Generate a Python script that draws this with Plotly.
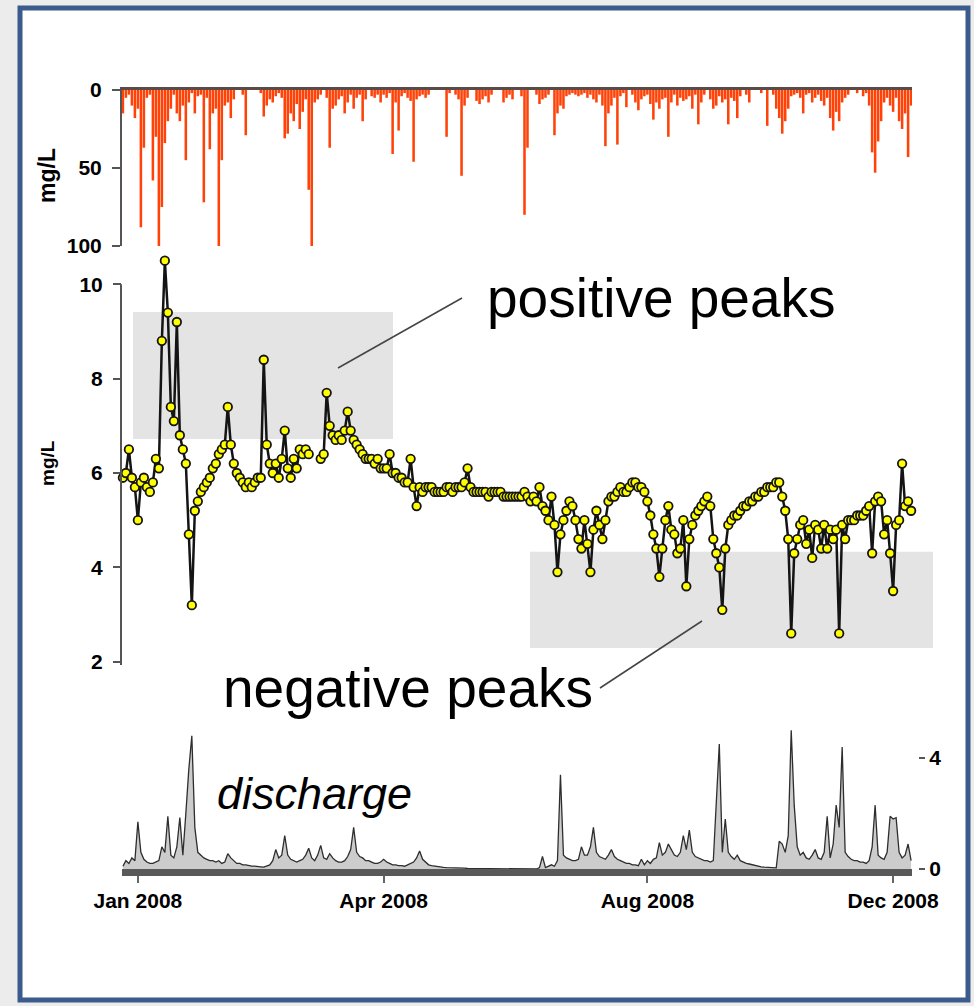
import plotly.graph_objects as go

# ---------------- data (one sample every ~3 px of the time axis) ----------------
rain = [
    15, 5, 3, 10, 18, 12, 88, 37, 5, 3,
    58, 30, 101, 75, 34, 20, 12, 3, 15, 20,
    10, 45, 8, 2, 15, 4, 3, 72, 5, 38,
    15, 12, 101, 45, 10, 8, 18, 6, 0, 0,
    3, 29, 0, 0, 0, 0, 2, 17, 10, 6,
    8, 4, 2, 5, 31, 28, 15, 20, 9, 25,
    14, 6, 64, 101, 8, 6, 3, 0, 5, 37,
    12, 10, 6, 4, 15, 8, 3, 12, 5, 3,
    20, 6, 0, 4, 5, 3, 8, 3, 5, 2,
    41, 8, 26, 4, 2, 5, 7, 46, 6, 4,
    3, 5, 3, 0, 0, 0, 0, 0, 30, 2,
    0, 3, 6, 55, 10, 5, 0, 0, 7, 9,
    6, 4, 8, 3, 0, 0, 0, 8, 5, 3,
    6, 0, 0, 4, 80, 37, 0, 0, 3, 9,
    6, 5, 3, 0, 29, 15, 10, 12, 4, 3,
    2, 3, 4, 3, 2, 5, 3, 6, 8, 3,
    10, 36, 15, 10, 5, 35, 4, 2, 11, 0,
    3, 8, 13, 6, 4, 3, 9, 19, 8, 12,
    6, 5, 30, 8, 3, 10, 5, 7, 6, 4,
    12, 3, 22, 8, 3, 0, 6, 12, 10, 4,
    8, 6, 22, 5, 7, 18, 4, 0, 3, 8,
    0, 0, 0, 2, 0, 23, 0, 3, 12, 18,
    28, 20, 12, 4, 3, 2, 5, 15, 3, 2,
    8, 5, 3, 7, 10, 5, 18, 26, 14, 20,
    8, 5, 3, 0, 0, 2, 0, 4, 2, 10,
    40, 53, 33, 20, 8, 5, 10, 14, 5, 20,
    25, 15, 43, 10,
]

conc = [
    5.9, 6.0, 6.5, 5.9, 5.7, 5.0, 5.8, 5.9, 5.7, 5.6,
    5.8, 6.3, 6.1, 8.8, 10.5, 9.4, 7.4, 7.1, 9.2, 6.8,
    6.5, 6.2, 4.7, 3.2, 5.2, 5.4, 5.6, 5.7, 5.8, 5.9,
    6.1, 6.2, 6.4, 6.5, 6.6, 7.4, 6.6, 6.2, 6.0, 5.9,
    5.8, 5.7, 5.8, 5.7, 5.8, 5.9, 5.9, 8.4, 6.6, 6.2,
    6.0, 6.2, 5.9, 6.3, 6.9, 6.1, 5.9, 6.3, 6.1, 6.5,
    6.4, 6.5, 6.4, None, None, None, 6.3, 6.4, 7.7, 7.0,
    6.8, 6.7, 6.8, 6.7, 6.9, 7.3, 6.9, 6.7, 6.6, 6.5,
    6.4, 6.3, 6.3, 6.3, 6.2, 6.3, 6.1, 6.1, 6.1, 6.4,
    6.0, 6.0, 5.9, 5.9, 5.8, 5.8, 6.3, 5.7, 5.3, 5.7,
    5.6, 5.7, 5.7, 5.7, 5.6, 5.6, 5.6, 5.6, 5.7, 5.7,
    5.6, 5.7, 5.7, 5.7, 5.8, 6.1, 5.7, 5.6, 5.6, 5.6,
    5.6, 5.6, 5.5, 5.6, 5.6, 5.6, 5.6, 5.5, 5.5, 5.5,
    5.5, 5.5, 5.5, 5.5, 5.6, 5.5, 5.4, 5.5, 5.4, 5.7,
    5.3, 5.2, 5.0, 5.5, 4.9, 3.9, 4.7, 5.0, 5.2, 5.4,
    5.3, 5.0, 4.6, 4.4, 5.0, 4.5, 3.9, 4.8, 5.2, 4.9,
    4.6, 5.0, 5.4, 5.5, 5.5, 5.6, 5.7, 5.6, 5.6, 5.7,
    5.8, 5.8, 5.7, 5.7, 5.6, 5.4, 5.1, 4.7, 4.4, 3.8,
    4.4, 5.0, 5.3, 4.8, 4.7, 4.3, 4.4, 5.0, 3.6, 4.6,
    4.9, 5.1, 5.2, 5.3, 5.4, 5.5, 5.3, 4.6, 4.3, 4.0,
    3.1, 4.4, 4.9, 5.0, 5.1, 5.1, 5.2, 5.3, 5.3, 5.4,
    5.4, 5.5, 5.5, 5.6, 5.6, 5.7, 5.7, 5.7, 5.8, 5.8,
    5.5, 5.2, 4.6, 2.6, 4.3, 4.6, 4.9, 5.0, 4.5, 4.8,
    4.2, 4.9, 4.8, 4.4, 4.9, 4.4, 4.8, 4.6, 4.8, 2.6,
    4.9, 4.6, 5.0, 5.0, 5.0, 5.1, 5.1, 5.1, 5.2, 5.3,
    4.3, 5.4, 5.5, 5.4, 4.7, 5.0, 4.3, 3.5, 4.9, 5.0,
    6.2, 5.3, 5.4, 5.2,
]

discharge = [
    0.1, 0.3, 0.2, 0.4, 0.3, 1.7, 0.6, 0.35, 0.25, 0.2,
    0.2, 0.25, 0.3, 0.8, 0.6, 1.9, 0.5, 0.4, 0.8, 1.85,
    0.5, 2.0, 3.6, 4.8, 1.5, 0.6, 0.5, 0.4, 0.35, 0.3,
    0.3, 0.25, 0.3, 0.2, 0.25, 0.55, 0.4, 0.3, 0.2, 0.2,
    0.15, 0.15, 0.12, 0.1, 0.1, 0.08, 0.08, 0.07, 0.1, 0.15,
    0.3, 0.7, 0.4, 0.5, 1.2, 0.5, 0.35, 0.3, 0.25, 0.3,
    0.35, 0.5, 0.75, 0.4, 0.3, 0.5, 0.85, 0.4, 0.35, 0.55,
    0.4, 0.3, 0.25, 0.25, 0.3, 0.45, 0.7, 1.5, 0.6, 0.45,
    0.4, 0.3, 0.3, 0.25, 0.2, 0.2, 0.25, 0.35, 0.25, 0.2,
    0.15, 0.15, 0.12, 0.12, 0.1, 0.15, 0.2, 0.25, 0.4, 0.65,
    0.35, 0.25, 0.15, 0.12, 0.1, 0.08, 0.07, 0.06, 0.05, 0.05,
    0.04, 0.03, 0.03, 0.03, 0.03, 0.02, 0.02, 0.02, 0.02, 0.02,
    0.02, 0.02, 0.02, 0.01, 0.01, 0.01, 0.01, 0.01, 0.01, 0.01,
    0.01, 0.01, 0.01, 0.01, 0.0, 0.0, 0.0, 0.0, 0.0, 0.05,
    0.45, 0.05, 0.1, 0.15, 0.1, 0.3, 3.4, 0.5, 0.4, 0.35,
    0.3, 0.3, 0.35, 0.8, 0.5, 0.5, 0.8, 1.5, 0.6, 0.45,
    0.4, 0.35, 0.5, 0.7, 0.45, 0.35, 0.3, 0.25, 0.2, 0.2,
    0.15, 0.15, 0.12, 0.35, 0.15, 0.3, 0.2, 0.35, 0.4, 0.95,
    0.5, 0.6, 0.9, 0.7, 0.5, 0.45, 0.6, 1.2, 0.7, 1.4,
    0.6, 0.45, 0.4, 0.35, 0.3, 0.3, 0.25, 0.3, 2.5, 4.5,
    0.6, 1.8, 0.6, 0.45, 0.35, 0.5, 0.3, 0.25, 0.2, 0.18,
    0.15, 0.12, 0.1, 0.08, 0.07, 0.06, 0.05, 0.05, 0.04, 1.0,
    0.9, 0.6, 1.2, 5.0, 2.3, 0.8, 0.5, 0.6, 0.4, 0.35,
    0.5, 0.7, 0.4, 0.35, 0.6, 1.9, 0.4, 0.9, 2.3, 1.5,
    4.4, 0.6, 0.45, 0.35, 0.3, 0.3, 0.25, 0.25, 0.2, 0.3,
    0.8, 2.3, 0.5, 0.4, 0.35, 0.6, 1.9, 1.8, 1.85, 0.6,
    0.4, 0.5, 0.9, 0.3,
]

tick_idx = [5, 87, 175, 257]
tick_labels = ["Jan 2008", "Apr 2008", "Aug 2008", "Dec 2008"]
rain_ticks = [0, 50, 100]
conc_ticks = [2, 4, 6, 8, 10]
q_ticks = [0, 4]

# ---------------- geometry helpers ----------------
W, H = 974, 1006
def px(x):
    return x / W
def py(y):
    return 1 - y / H

idx = list(range(len(conc)))
xr = [-0.3, 263.3]
xdom = [px(122), px(912)]
FONT = "Liberation Sans, Arial, sans-serif"
tickfont = dict(family=FONT, size=21, color="black", weight="bold")

fig = go.Figure()
fig.add_trace(go.Bar(
    x=idx, y=rain, xaxis="x", yaxis="y",
    marker=dict(color="#ff4208", line=dict(width=0)),
    showlegend=False, hoverinfo="skip"))
fig.add_trace(go.Scatter(
    x=idx, y=conc, xaxis="x2", yaxis="y2", mode="lines+markers",
    line=dict(color="#141414", width=2.5),
    marker=dict(size=8.5, color="#ffff00", line=dict(color="#141414", width=1.8)),
    connectgaps=False, cliponaxis=False, showlegend=False))
fig.add_trace(go.Scatter(
    x=idx, y=discharge, xaxis="x3", yaxis="y3", mode="lines",
    fill="tozeroy", fillcolor="#cccccc",
    line=dict(color="#2e2e2e", width=1.3), showlegend=False))

shapes = [
    # frame
    dict(type="rect", xref="paper", yref="paper", x0=px(20), x1=px(968),
         y0=py(1000), y1=py(8), fillcolor="white",
         line=dict(color="#3b5b8c", width=5), layer="below"),
    # highlight boxes
    dict(type="rect", xref="paper", yref="y2", x0=px(133), x1=px(393),
         y0=6.72, y1=9.41, fillcolor="#e4e4e4", line=dict(width=0), layer="below"),
    dict(type="rect", xref="paper", yref="y2", x0=px(530), x1=px(933),
         y0=2.29, y1=4.33, fillcolor="#e4e4e4", line=dict(width=0), layer="below"),
    # middle axis line
    dict(type="line", xref="paper", yref="y2", x0=px(121), x1=px(121),
         y0=1.93, y1=10.0, line=dict(color="#555555", width=2)),
    # leader lines
    dict(type="line", xref="paper", yref="paper", x0=px(338), y0=py(368),
         x1=px(462), y1=py(298), line=dict(color="#444444", width=1.5)),
    dict(type="line", xref="paper", yref="paper", x0=px(600), y0=py(688),
         x1=px(702), y1=py(621), line=dict(color="#444444", width=1.5)),
]

def note(text, x, y, font, angle=0):
    return dict(text=text, xref="paper", yref="paper", x=px(x), y=py(y),
                xanchor="center", yanchor="middle", textangle=angle,
                showarrow=False, font=font)

annotations = [
    note("positive peaks", 661, 298, dict(family=FONT, size=55, color="black")),
    note("negative peaks", 408, 688, dict(family=FONT, size=55, color="black")),
    note("discharge", 314, 793, dict(family=FONT, size=45, color="black", style="italic")),
    note("mg/L", 47, 176, dict(family=FONT, size=23, color="black", weight="bold"), -90),
    note("mg/L", 48, 463, dict(family=FONT, size=19, color="black", weight="bold"), -90),
]

fig.update_layout(
    width=W, height=H, autosize=False,
    margin=dict(l=0, r=0, t=0, b=0, pad=0, autoexpand=False),
    paper_bgcolor="#ececec", plot_bgcolor="rgba(0,0,0,0)",
    bargap=0.15, showlegend=False,
    shapes=shapes, annotations=annotations,
    xaxis=dict(domain=xdom, range=xr, anchor="y", side="top", showline=True,
               linecolor="#5b4b47", linewidth=3, showticklabels=False, ticks="",
               showgrid=False, zeroline=False),
    yaxis=dict(domain=[py(246), py(90)], range=[100, 0], anchor="x",
               tickvals=rain_ticks, ticks="outside", ticklen=8, tickwidth=2,
               tickcolor="#555555", showline=True, linecolor="#555555", linewidth=2,
               tickfont=tickfont, ticklabelstandoff=6, showgrid=False, zeroline=False),
    xaxis2=dict(domain=xdom, range=xr, anchor="y2", visible=False),
    yaxis2=dict(domain=[py(666.5), py(251.2)], range=[1.9, 10.7], anchor="x2",
                tickvals=conc_ticks, ticks="outside", ticklen=8, tickwidth=2,
                tickcolor="#555555", showline=False, tickfont=tickfont,
                ticklabelstandoff=6, showgrid=False, zeroline=False),
    xaxis3=dict(domain=xdom, range=xr, anchor="y3", showline=True,
                linecolor="#595959", linewidth=7, ticks="outside", ticklen=7,
                tickwidth=2, tickcolor="#666666", tickvals=tick_idx,
                ticktext=tick_labels, tickfont=tickfont, showgrid=False,
                zeroline=False),
    yaxis3=dict(domain=[py(869), py(724.7)], range=[0, 5.2], anchor="free",
                position=px(918), side="right", tickvals=q_ticks, ticks="outside",
                ticklen=6, tickwidth=2, tickcolor="#555555", showline=False,
                tickfont=tickfont, showgrid=False, zeroline=False),
)

fig.write_html("out.html")
